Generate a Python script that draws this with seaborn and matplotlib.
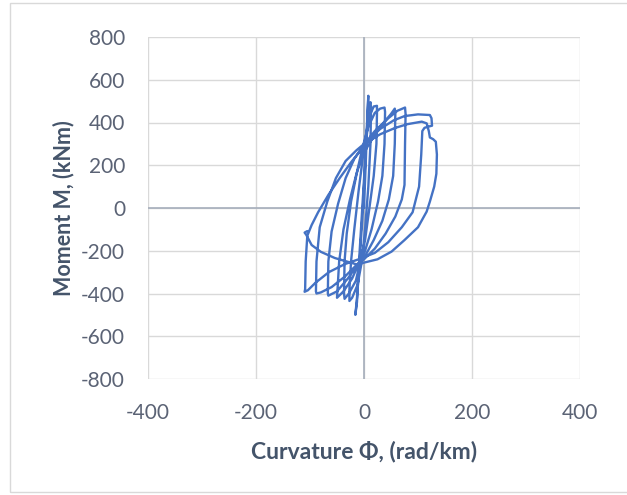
import matplotlib
matplotlib.use("Agg")
import matplotlib.pyplot as plt
import seaborn as sns
import pandas as pd
from matplotlib.patches import Rectangle

# Curvature (rad/km) along the recorded path
curvature = [
    0, 3, 6, 8, 7, 3, -2, -8, -13, -16, -13, -8, -2, 4, 9, 12, 13,
    12, 8, 2, -4, -12, -22, -27, -27, -24, -18, -10, -3, 2, 10, 18, 24,
    24, 23, 18, 10, 2, -8, -15, -28, -36, -37, -36, -32, -24, -12, -2, 8, 20, 30, 38,
    39, 38, 34, 26, 14, 2, -10, -22, -38, -48, -50, -49, -46, -38, -26, -14, -2, 12, 30, 50, 57,
    58, 57, 54, 46, 34, 18, 2, -11, -30, -50, -66, -67, -66, -60, -48, -34, -18, -2, 20, 45, 62, 76,
    77, 76, 75, 70, 58, 40, 20, 0, -12, -35, -60, -80, -88, -89, -88, -82, -68, -52, -34, -14, 5, 30, 55, 75, 100, 122, 125, 126, 118, 112,
    108, 106, 102, 90, 70, 45, 20, -10, -35, -65, -90, -104, -110, -109, -108, -105,
    -97, -85, -66, -45, -23, 7, 30, 57, 80, 107, 116, 120, 122, 128, 133, 135, 134, 130, 122, 116, 100, 75, 51, 25, -4, -12, -54, -80, -97, -107, -110, -105,
]
# Moment (kNm) along the recorded path
moment = [
    0, 200, 400, 525, 470, 250, 0, -250, -420, -500, -440, -200, 50, 300, 470, 495, 470,
    300, 100, -100, -250, -360, -420, -435, -380, -250, -100, 80, 220, 320, 430, 475, 478,
    440, 300, 150, 0, -150, -262, -340, -400, -425, -400, -250, -120, 30, 180, 290, 380, 445, 465, 470,
    450, 300, 150, 30, -100, -200, -262, -330, -390, -415, -420, -380, -250, -100, 40, 160, 250, 310, 380, 440, 465,
    440, 300, 150, 40, -60, -150, -225, -262, -330, -390, -410, -400, -250, -110, 20, 140, 230, 290, 360, 420, 455, 470,
    440, 300, 108, 40, -40, -120, -190, -240, -262, -320, -370, -395, -400, -390, -250, -90, 30, 140, 220, 270, 310, 370, 410, 430, 438, 435, 420, 385, 380, 375,
    360, 250, 100, -20, -90, -160, -210, -240, -262, -300, -350, -385, -392, -380, -250, -130,
    -80, -20, 61, 140, 217, 310, 345, 374, 392, 404, 396, 360, 330, 322, 310, 250, 160, 100, 30, -17, -90, -150, -204, -240, -258, -265, -234, -205, -173, -125, -115, -108,
]
x_ticks = [-400, -200, 0, 200, 400]
y_ticks = [-800, -600, -400, -200, 0, 200, 400, 600, 800]

sns.set_theme(style="white")
plt.rcParams['font.family'] = ['Lato', 'DejaVu Sans']
plt.rcParams['axes.unicode_minus'] = False

df = pd.DataFrame({"order": range(len(curvature)), "phi": curvature, "M": moment})

fig = plt.figure(figsize=(6.27, 4.95), dpi=100)
fig.patches.append(Rectangle((10/627, 3/495), 620/627, 489/495, transform=fig.transFigure,
                             fill=False, edgecolor="#D9D9D9", linewidth=1.0))
ax = fig.add_axes([148/627, 1 - 379/495, 432/627, 342/495])

for v in x_ticks:
    ax.axvline(v, color="#D9D9D9", lw=1.0, zorder=0)
for v in y_ticks:
    ax.axhline(v, color="#D9D9D9", lw=1.0, zorder=0)
ax.axvline(0, color="#A6AEBB", lw=1.2, zorder=1)
ax.axhline(0, color="#A6AEBB", lw=1.2, zorder=1)

sns.lineplot(data=df, x="phi", y="M", sort=False, estimator=None, ax=ax,
             color="#4472C4", linewidth=1.7, zorder=3)

ax.set_xlim(-400, 400)
ax.set_ylim(-800, 800)
ax.set_xticks(x_ticks)
ax.set_yticks(y_ticks)
for s in ax.spines.values():
    s.set_visible(False)
ax.tick_params(axis="both", length=0, labelsize=15, labelcolor="#5B6375")
ax.tick_params(axis="y", pad=16.5)
ax.tick_params(axis="x", pad=17)
ax.set_xlabel("Curvature Φ, (rad/km)", fontsize=16.5, fontweight="bold", color="#44546A")
ax.set_ylabel("Moment M, (kNm)", fontsize=15.5, fontweight="bold", color="#44546A")
ax.xaxis.set_label_coords(0.5, (379 - 451) / 342)
ax.xaxis.label.set_va("center")
ax.yaxis.set_label_coords((64 - 148) / 432, 0.5)
ax.yaxis.label.set_va("center")

fig.savefig("out.png", dpi=100)
